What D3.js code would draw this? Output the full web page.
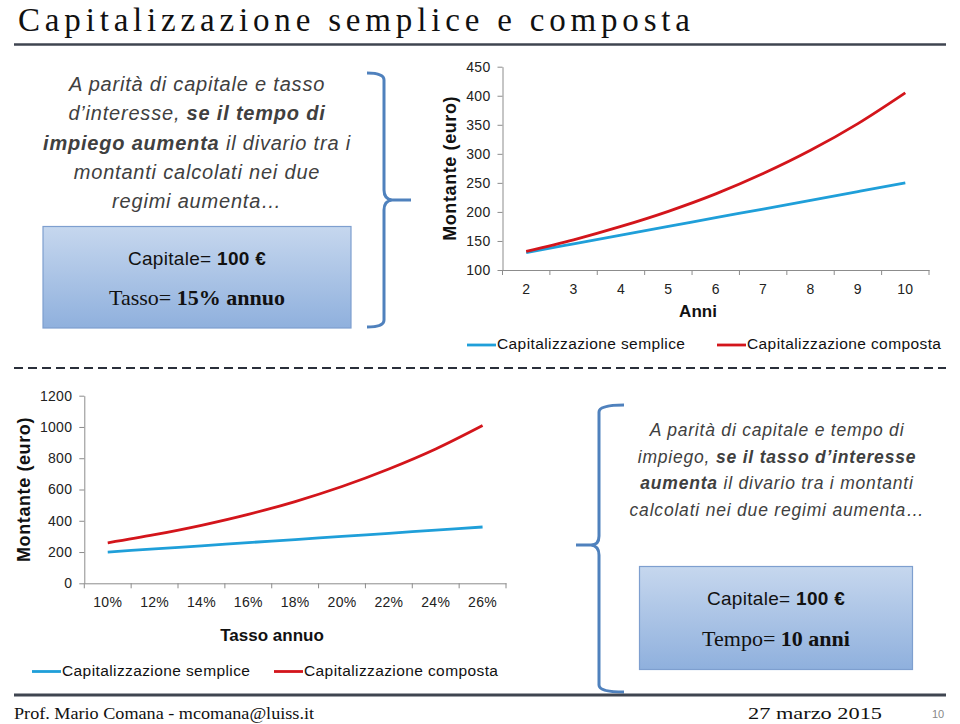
<!DOCTYPE html>
<html><head><meta charset="utf-8">
<script src="https://cdn.jsdelivr.net/npm/d3@7"></script>
<style>
html,body{margin:0;padding:0;background:#fff;}
svg{display:block;}
</style></head>
<body>
<svg id="c" width="960" height="724"></svg>
<script>
// ---- data ----
const years = [2, 3, 4, 5, 6, 7, 8, 9, 10];
const semplAnni = [130, 145, 160, 175, 190, 205, 220, 235, 250];
const compAnni = [132, 152, 175, 201, 231, 266, 306, 352, 405];
const yTicksTop = [100, 150, 200, 250, 300, 350, 400, 450];

const rates = ["10%", "12%", "14%", "16%", "18%", "20%", "22%", "24%", "26%"];
const semplTasso = [200, 220, 240, 260, 280, 300, 320, 340, 360];
const compTasso = [259, 311, 371, 441, 523, 619, 731, 859, 1009];
const yTicksBot = [0, 200, 400, 600, 800, 1000, 1200];

const seriesNames = ["Capitalizzazione semplice", "Capitalizzazione composta"];
const seriesColors = ["#1f9fd9", "#d3151b"];

const svg = d3.select("#c");
const SANS = "'Liberation Sans', Arial, sans-serif";
const SERIF = "'Liberation Serif', 'Times New Roman', serif";

// ---- title ----
svg.append("text").attr("x", 18).attr("y", 31)
  .attr("font-family", SERIF).attr("font-size", 33).attr("fill", "#111")
  .attr("textLength", 672).attr("lengthAdjust", "spacing")
  .text("Capitalizzazione semplice e composta");
svg.append("line").attr("x1", 14).attr("x2", 946).attr("y1", 44.5).attr("y2", 44.5)
  .attr("stroke", "#3f4550").attr("stroke-width", 2.5);

// ---- chart helper ----
function chart(cfg) {
  const g = svg.append("g");
  const x = d3.scaleBand().domain(cfg.cats).range(cfg.xr).padding(0);
  const y = d3.scaleLinear().domain(cfg.yd).range(cfg.yr);
  const axisColor = "#8c8c8c";
  // y axis
  const ya = g.append("g").attr("transform", `translate(${cfg.xr[0]},0)`)
    .call(d3.axisLeft(y).tickValues(cfg.yticks).tickFormat(d3.format("d"))
      .tickSize(5).tickSizeOuter(0).tickPadding(7));
  ya.select(".domain").attr("stroke", axisColor);
  ya.selectAll(".tick line").attr("stroke", axisColor);
  ya.selectAll("text").attr("font-family", SANS).attr("font-size", 14).attr("fill", "#222")
    .attr("letter-spacing", 0.3);
  // x axis
  const xa = g.append("g").attr("transform", `translate(0,${cfg.yr[0]})`)
    .call(d3.axisBottom(x).tickSize(0).tickPadding(cfg.xpad));
  xa.select(".domain").attr("stroke", axisColor);
  xa.selectAll("text").attr("font-family", SANS).attr("font-size", 14).attr("fill", "#222")
    .attr("letter-spacing", 0.3);
  const bounds = cfg.cats.map(c => x(c)).concat([cfg.xr[1]]);
  xa.selectAll(".bt").data(bounds).enter().append("line")
    .attr("x1", d => d).attr("x2", d => d).attr("y1", 0).attr("y2", 5)
    .attr("stroke", axisColor);
  // lines
  const line = d3.line().x((d, i) => x(cfg.cats[i]) + x.bandwidth() / 2).y(d => y(d))
    .curve(d3.curveMonotoneX);
  [cfg.s1, cfg.s2].forEach((s, k) => {
    g.append("path").datum(s).attr("d", line).attr("fill", "none")
      .attr("stroke", seriesColors[k]).attr("stroke-width", 2.8);
  });
  // axis titles
  g.append("text").attr("transform", `translate(${cfg.ylx},${(cfg.yr[0] + cfg.yr[1]) / 2}) rotate(-90)`)
    .attr("text-anchor", "middle").attr("dominant-baseline", "middle")
    .attr("font-family", SANS).attr("font-weight", "bold").attr("font-size", 18).attr("fill", "#111")
    .attr("letter-spacing", 0.6)
    .text("Montante (euro)");
  g.append("text").attr("x", cfg.xlx).attr("y", cfg.xly).attr("text-anchor", "middle")
    .attr("dominant-baseline", "middle")
    .attr("font-family", SANS).attr("font-weight", "bold").attr("font-size", 17).attr("fill", "#111")
    .text(cfg.xtitle);
  // legend
  cfg.leg.forEach((L, k) => {
    g.append("line").attr("x1", L[0]).attr("x2", L[0] + 29).attr("y1", cfg.legy).attr("y2", cfg.legy)
      .attr("stroke", seriesColors[k]).attr("stroke-width", 2.8);
    g.append("text").attr("x", L[0] + 30).attr("y", cfg.legy).attr("dominant-baseline", "middle")
      .attr("font-family", SANS).attr("font-size", 15.5).attr("fill", "#111").attr("letter-spacing", 0.4)
      .text(seriesNames[k]);
  });
}

chart({
  cats: years, xr: [502.5, 929], yd: [100, 450], yr: [270, 66.7], yticks: yTicksTop,
  s1: semplAnni, s2: compAnni, xpad: 14, ylx: 451, xlx: 698, xly: 313, xtitle: "Anni",
  leg: [[467], [717]], legy: 345
});
chart({
  cats: rates, xr: [84.3, 506], yd: [0, 1200], yr: [583.3, 395.7], yticks: yTicksBot,
  s1: semplTasso, s2: compTasso, xpad: 14, ylx: 25, xlx: 272, xly: 637, xtitle: "Tasso annuo",
  leg: [[32], [274]], legy: 671.5
});

// ---- dashed separator ----
svg.append("line").attr("x1", 14).attr("x2", 946).attr("y1", 368).attr("y2", 368)
  .attr("stroke", "#2a2f3a").attr("stroke-width", 2).attr("stroke-dasharray", "9,5");

// ---- gradient for boxes ----
const defs = svg.append("defs");
const gr = defs.append("linearGradient").attr("id", "bg").attr("x1", 0).attr("y1", 0).attr("x2", 0).attr("y2", 1);
gr.append("stop").attr("offset", "0%").attr("stop-color", "#c6d7ee");
gr.append("stop").attr("offset", "100%").attr("stop-color", "#8fb0dd");

// ---- paragraphs ----
function para(lines, cx, y0, dy, fs) {
  lines.forEach((ln, i) => {
    const t = svg.append("text").attr("x", cx).attr("y", y0 + i * dy).attr("text-anchor", "middle")
      .attr("font-family", SANS).attr("font-style", "italic").attr("font-size", fs).attr("fill", "#404040")
      .attr("letter-spacing", 0.8).attr("dominant-baseline", "middle");
    ln.forEach(seg => t.append("tspan").attr("font-weight", seg[1] ? "bold" : "normal").text(seg[0]));
  });
}
para([
  [["A parità di capitale e tasso", 0]],
  [["d’interesse, ", 0], ["se il tempo di", 1]],
  [["impiego aumenta", 1], [" il divario tra i", 0]],
  [["montanti calcolati nei due", 0]],
  [["regimi aumenta…", 0]]
], 197, 86, 29.3, 20);

para([
  [["A parità di capitale e tempo di", 0]],
  [["impiego, ", 0], ["se il tasso d’interesse", 1]],
  [["aumenta", 1], [" il divario tra i montanti", 0]],
  [["calcolati nei due regimi aumenta…", 0]]
], 777, 431, 26.5, 17.5);

// ---- boxes ----
function box(x, y, w, h, l2a, l2b) {
  svg.append("rect").attr("x", x).attr("y", y).attr("width", w).attr("height", h)
    .attr("fill", "url(#bg)").attr("stroke", "#7e9fcf").attr("stroke-width", 1.2);
  const t1 = svg.append("text").attr("x", x + w / 2).attr("y", y + h * 0.33).attr("text-anchor", "middle")
    .attr("dominant-baseline", "middle").attr("font-family", SANS).attr("font-size", 19).attr("fill", "#111")
    .attr("letter-spacing", 0.3);
  t1.append("tspan").text("Capitale= ");
  t1.append("tspan").attr("font-weight", "bold").text("100 €");
  const t2 = svg.append("text").attr("x", x + w / 2).attr("y", y + h * 0.72).attr("text-anchor", "middle")
    .attr("dominant-baseline", "middle").attr("font-family", SERIF).attr("font-size", 22).attr("fill", "#111");
  t2.append("tspan").text(l2a);
  t2.append("tspan").attr("font-weight", "bold").text(l2b);
}
box(43, 226.5, 308, 101.5, "Tasso= ", "15% annuo");
box(639.5, 566.5, 273, 103, "Tempo= ", "10 anni");

// ---- braces ----
const braceColor = "#4f81bd";
svg.append("path").attr("fill", "none").attr("stroke", braceColor).attr("stroke-width", 3)
  .attr("d", "M367,73 Q384,73 384,80 L384,190 Q384,199 392,200 L411,200 M392,200 Q384,201 384,210 L384,320 Q384,327 367,327");
svg.append("path").attr("fill", "none").attr("stroke", braceColor).attr("stroke-width", 3)
  .attr("d", "M624,405 Q599,405 599,412 L599,536 Q599,545 591,545 L576,545 M591,545 Q599,546 599,555 L599,685 Q599,692 624,692");

// ---- footer ----
svg.append("line").attr("x1", 14).attr("x2", 946).attr("y1", 695).attr("y2", 695)
  .attr("stroke", "#3f4550").attr("stroke-width", 3);
svg.append("text").attr("x", 14).attr("y", 719).attr("font-family", SERIF).attr("font-size", 16)
  .attr("fill", "#111").attr("textLength", 300).attr("lengthAdjust", "spacingAndGlyphs")
  .text("Prof. Mario Comana - mcomana@luiss.it");
svg.append("text").attr("x", 748).attr("y", 719).attr("font-family", SERIF).attr("font-size", 16)
  .attr("fill", "#111").attr("textLength", 134).attr("lengthAdjust", "spacingAndGlyphs")
  .text("27 marzo 2015");
svg.append("text").attr("x", 938).attr("y", 718).attr("text-anchor", "middle").attr("font-family", SANS)
  .attr("font-size", 11).attr("fill", "#888").text("10");
</script>
</body></html>
